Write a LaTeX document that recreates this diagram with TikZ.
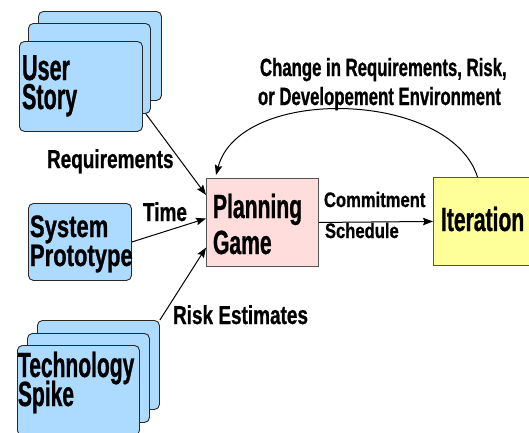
\documentclass[tikz,border=0pt]{standalone}
\usepackage{fontspec}
\usetikzlibrary{arrows.meta}
\setmainfont{Liberation Sans}
% condensed bold faces for the different text sizes
\newfontfamily\cardfont{Liberation Sans Bold}[FakeStretch=0.6, FakeBold=0.8]
\newfontfamily\sysfont{Liberation Sans Bold}[FakeStretch=0.71, FakeBold=0.8]
\newfontfamily\boxfont{Liberation Sans Bold}[FakeStretch=0.63, FakeBold=0.8]
\newfontfamily\flowfont{Liberation Sans Bold}[FakeStretch=0.73, FakeBold=0.8]
\newfontfamily\loopfont{Liberation Sans Bold}[FakeStretch=0.67, FakeBold=0.8]
\newfontfamily\outfont{Liberation Sans Bold}[FakeStretch=0.79, FakeBold=0.8]
\definecolor{cardblue}{RGB}{173,218,255}
\definecolor{planpink}{RGB}{255,221,221}
\definecolor{iteryellow}{RGB}{255,255,153}
\definecolor{edge}{RGB}{40,40,40}
\tikzset{
  card/.style={draw=edge, line width=0.9pt, fill=cardblue, rounded corners=5pt,
    anchor=north west, inner sep=0pt},
  plainbox/.style={draw=edge!80, line width=0.9pt, anchor=north west, inner sep=0pt},
  txt/.style={anchor=base west, inner sep=0pt, outer sep=0pt, text depth=0pt},
  cardtxt/.style={txt, text height=25pt, font=\cardfont\fontsize{36}{36}\selectfont},
  techtxt/.style={txt, text height=25pt, font=\cardfont\fontsize{35}{35}\selectfont},
  systxt/.style={txt, text height=22pt, font=\sysfont\fontsize{31}{31}\selectfont},
  boxtxt/.style={txt, text height=24pt, font=\boxfont\fontsize{33.5}{33.5}\selectfont},
  flowtxt/.style={txt, font=\flowfont\fontsize{26}{26}\selectfont},
  looptxt/.style={txt, font=\loopfont\fontsize{25}{25}\selectfont},
  outtxt/.style={txt, font=\outfont\fontsize{21}{21}\selectfont},
  arr/.style={draw=black, line width=1pt, -{Stealth[length=10pt,width=7.5pt,inset=1.5pt]}}
}
\begin{document}
\begin{tikzpicture}[x=1pt, y=-1pt]
\useasboundingbox (0,0) rectangle (529,432);
\clip (0,0) rectangle (529,432);

% user story stack
\node[card, minimum width=123pt, minimum height=89pt] (usB) at (38,11) {};
\node[card, minimum width=122pt, minimum height=90pt] (usM) at (28,23) {};
\node[card, minimum width=123pt, minimum height=90pt] (usF) at (19,41) {};
\node[cardtxt] (usT1) at (22,80) {User};
\node[cardtxt] (usT2) at (22,109) {Story};

% system prototype
\node[card, minimum width=103pt, minimum height=77pt] (sys) at (28,203) {};
\node[systxt] (sysT1) at (30,237) {System};
\node[systxt] (sysT2) at (30,266) {Prototype};

% technology spike stack
\node[card, minimum width=122pt, minimum height=89pt] (tB) at (37,320) {};
\node[card, minimum width=122pt, minimum height=89pt] (tM) at (27,333) {};
\node[card, minimum width=122pt, minimum height=90pt] (tF) at (17,345) {};
\node[techtxt] (tT1) at (18,377) {Technology};
\node[techtxt] (tT2) at (18,406) {Spike};

% planning game and iteration
\node[plainbox, fill=planpink, minimum width=112pt, minimum height=88pt] (plan) at (206,178) {};
\node[boxtxt] (planT1) at (213,218) {Planning};
\node[boxtxt] (planT2) at (213,254) {Game};
\node[plainbox, fill=iteryellow, minimum width=99pt, minimum height=88pt] (iter) at (433,177) {};
\node[boxtxt] (iterT) at (441,231) {Iteration};

% connector labels
\node[flowtxt] (lreq) at (47,168) {Requirements};
\node[flowtxt] (ltime) at (143,221) {Time};
\node[flowtxt] (lrisk) at (173,324) {Risk Estimates};
\node[outtxt] (lcom) at (324,207) {Commitment};
\node[outtxt] (lsch) at (325,238) {Schedule};
\node[looptxt] (lch1) at (260,76) {Change in Requirements, Risk,};
\node[looptxt] (lch2) at (258,105) {or Developement Environment};

% connectors
\draw[arr] ([xshift=-5pt]usM.south east) -- (plan.154);
\draw[arr] (sys.east) -- (plan.176);
\draw[arr] (tB.north east) -- (plan.204);
\draw[arr] (plan.east) -- (iter.west);
\coordinate (loopend) at ([xshift=10pt,yshift=3pt]plan.north west);
\draw[arr] (iter.97) .. controls (450,90) and (240,85) .. (loopend);
\end{tikzpicture}
\end{document}
